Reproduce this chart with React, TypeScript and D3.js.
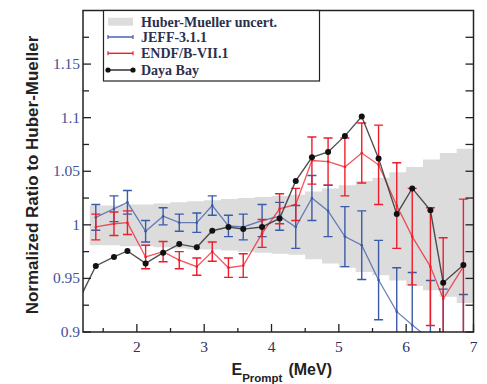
import React, { useEffect, useRef } from "react";
import * as d3 from "d3";

// energies of the prompt bins (MeV)
const energy = [1.39, 1.66, 1.86, 2.13, 2.39, 2.63, 2.89, 3.12, 3.36, 3.58, 3.86, 4.12, 4.36, 4.6, 4.84, 5.09, 5.34, 5.59, 5.86, 6.09, 6.36, 6.55, 6.85];

const jeff = [1.007, 1.015, 1.021, 0.994, 1.008, 1.002, 1.002, 1.018, 0.999, 0.998, 1.004, 1.008, 0.998, 1.025, 1.013, 0.989, 0.981, 0.9485, 0.919, 0.9065, 0.893, 0.88, 0.87];
const jeffErr = [0.012, 0.012, 0.011, 0.01, 0.008, 0.008, 0.009, 0.009, 0.01, 0.012, 0.015, 0.013, 0.02, 0.021, 0.024, 0.028, 0.032, 0.037, 0.041, 0.049, 0.055, 0.06, 0.065];

const endf = [0.998, 1.001, 1.002, 0.97, 0.975, 0.967, 0.961, 0.975, 0.96, 0.962, 0.992, 1.015, 1.019, 1.06, 1.059, 1.054, 1.067, 1.056, 1.018, 0.989, 0.961, 0.931, 0.961];
const endfErr = [0.012, 0.011, 0.011, 0.011, 0.0095, 0.008, 0.008, 0.009, 0.009, 0.011, 0.013, 0.014, 0.015, 0.022, 0.022, 0.027, 0.028, 0.037, 0.04, 0.045, 0.055, 0.057, 0.063];

// Daya Bay has one more point left of the frame (clipped)
const dayaEnergy = [1.125, ...energy];
const daya = [0.928, 0.9616, 0.97, 0.9756, 0.964, 0.974, 0.982, 0.979, 0.9945, 0.998, 0.996, 0.998, 1.006, 1.041, 1.063, 1.068, 1.083, 1.101, 1.062, 1.01, 1.034, 1.0135, 0.946, 0.9625];

// Huber-Mueller uncertainty band, stepped bins
const bandEdges = [1.3, 1.5, 1.75, 2.0, 2.25, 2.5, 2.75, 3.0, 3.25, 3.5, 3.75, 4.0, 4.25, 4.5, 4.75, 5.0, 5.25, 5.5, 5.75, 6.0, 6.25, 6.5, 6.75, 7.0];
const bandLow = [0.981, 0.981, 0.98, 0.98, 0.979, 0.978, 0.977, 0.977, 0.976, 0.975, 0.974, 0.973, 0.972, 0.968, 0.964, 0.96, 0.956, 0.953, 0.948, 0.943, 0.939, 0.933, 0.927];
const bandHigh = [1.018, 1.018, 1.019, 1.019, 1.02, 1.021, 1.022, 1.023, 1.024, 1.025, 1.026, 1.027, 1.028, 1.031, 1.034, 1.037, 1.041, 1.044, 1.049, 1.054, 1.061, 1.067, 1.071];

const yTicks = [0.9, 0.95, 1.0, 1.05, 1.1, 1.15];
const yTickLabels = ["0.9", "0.95", "1", "1.05", "1.1", "1.15"];
const yMinor = [0.925, 0.975, 1.025, 1.075, 1.125, 1.175];
const xTicks = [2, 3, 4, 5, 6, 7];
const xMinor = [1.5, 2.5, 3.5, 4.5, 5.5, 6.5];

const legendItems = ["Huber-Mueller uncert.", "JEFF-3.1.1", "ENDF/B-VII.1", "Daya Bay"];

const BLUE = "#3b5aa8";
const RED = "#ee1d2a";
const BLACK = "#222";

const App = () => {
  const ref = useRef<SVGSVGElement>(null);

  useEffect(() => {
    const width = 487;
    const height = 384;
    const margin = { top: 10.5, right: 13.5, bottom: 52, left: 83 };

    const svg = d3.select(ref.current);
    svg.selectAll("*").remove();

    const x = d3.scaleLinear().domain([1.2, 7]).range([margin.left, width - margin.right]);
    const y = d3.scaleLinear().domain([0.9, 1.2]).range([height - margin.bottom, margin.top]);

    svg.append("clipPath").attr("id", "plotclip")
      .append("rect")
      .attr("x", margin.left).attr("y", margin.top)
      .attr("width", width - margin.left - margin.right)
      .attr("height", height - margin.top - margin.bottom);

    const plot = svg.append("g").attr("clip-path", "url(#plotclip)");

    // band
    const bandPts = bandEdges.map((e, i) => ({
      x: e,
      lo: bandLow[Math.min(i, bandLow.length - 1)],
      hi: bandHigh[Math.min(i, bandHigh.length - 1)],
    }));
    plot.append("path")
      .datum(bandPts)
      .attr("fill", "#dcdcdc")
      .attr("d", d3.area<any>().curve(d3.curveStepAfter).x(d => x(d.x)).y0(d => y(d.lo)).y1(d => y(d.hi)));

    // series with error bars
    const drawSeries = (vals: number[], errs: number[], color: string) => {
      const g = plot.append("g");
      const pts = energy.map((e, i) => ({ e, v: vals[i], err: errs[i] }));
      g.append("path")
        .datum(pts)
        .attr("fill", "none")
        .attr("stroke", color)
        .attr("stroke-opacity", 0.75)
        .attr("stroke-width", 1.3)
        .attr("d", d3.line<any>().x(d => x(d.e)).y(d => y(d.v)));
      const bars = g.selectAll("g.bar").data(pts).enter().append("g")
        .attr("stroke", color).attr("stroke-width", 1.4);
      bars.append("line")
        .attr("x1", d => x(d.e)).attr("x2", d => x(d.e))
        .attr("y1", d => y(d.v - d.err)).attr("y2", d => y(d.v + d.err));
      bars.append("line")
        .attr("x1", d => x(d.e) - 4.5).attr("x2", d => x(d.e) + 4.5)
        .attr("y1", d => y(d.v + d.err)).attr("y2", d => y(d.v + d.err));
      bars.append("line")
        .attr("x1", d => x(d.e) - 4.5).attr("x2", d => x(d.e) + 4.5)
        .attr("y1", d => y(d.v - d.err)).attr("y2", d => y(d.v - d.err));
      g.selectAll("circle").data(pts).enter().append("circle")
        .attr("cx", d => x(d.e)).attr("cy", d => y(d.v)).attr("r", 1.3).attr("fill", color);
    };
    drawSeries(jeff, jeffErr, BLUE);
    drawSeries(endf, endfErr, RED);

    // Daya Bay
    const dayaPts = dayaEnergy.map((e, i) => ({ e, v: daya[i] }));
    plot.append("path")
      .datum(dayaPts)
      .attr("fill", "none")
      .attr("stroke", "#333")
      .attr("stroke-opacity", 0.85)
      .attr("stroke-width", 1.4)
      .attr("d", d3.line<any>().x(d => x(d.e)).y(d => y(d.v)));
    plot.selectAll("circle.daya").data(dayaPts).enter().append("circle")
      .attr("class", "daya")
      .attr("cx", d => x(d.e)).attr("cy", d => y(d.v)).attr("r", 3).attr("fill", "#111");

    // frame
    svg.append("rect")
      .attr("x", margin.left).attr("y", margin.top)
      .attr("width", width - margin.left - margin.right)
      .attr("height", height - margin.top - margin.bottom)
      .attr("fill", "none").attr("stroke", BLACK).attr("stroke-width", 1.5);

    const ticks = svg.append("g").attr("stroke", BLACK).attr("stroke-width", 1.3);
    yTicks.concat(yMinor).forEach(v => {
      const major = yTicks.includes(v);
      ticks.append("line").attr("x1", x(1.2)).attr("x2", x(1.2) + (major ? 8 : 6)).attr("y1", y(v)).attr("y2", y(v));
      ticks.append("line").attr("x1", x(7)).attr("x2", x(7) - 8).attr("y1", y(v)).attr("y2", y(v));
    });
    xTicks.concat(xMinor).forEach(v => {
      const major = xTicks.includes(v);
      ticks.append("line").attr("x1", x(v)).attr("x2", x(v)).attr("y1", y(0.9)).attr("y2", y(0.9) - (major ? 8 : 4));
    });

    // tick labels
    svg.append("g").selectAll("text").data(yTicks).enter().append("text")
      .attr("x", x(1.2) - 3).attr("y", d => y(d) + 5)
      .attr("text-anchor", "end")
      .attr("font-family", "'Liberation Serif', 'Times New Roman', serif")
      .attr("font-size", 15.5).attr("fill", "#44529a")
      .text((d, i) => yTickLabels[i]);
    svg.append("g").selectAll("text").data(xTicks).enter().append("text")
      .attr("x", d => x(d)).attr("y", 352)
      .attr("text-anchor", "middle")
      .attr("font-family", "'Liberation Serif', 'Times New Roman', serif")
      .attr("font-size", 15.5).attr("fill", "#2d3160")
      .text(d => d);

    // axis titles
    svg.append("text")
      .attr("transform", `translate(38, 175) rotate(-90)`)
      .attr("text-anchor", "middle")
      .attr("font-family", "'Liberation Sans', Arial, sans-serif")
      .attr("font-weight", "bold").attr("font-size", 17).attr("fill", BLACK)
      .text("Normalized Ratio to Huber-Mueller");
    const xl = svg.append("text")
      .attr("x", 231.5).attr("y", 375)
      .attr("font-family", "'Liberation Sans', Arial, sans-serif")
      .attr("font-weight", "bold").attr("fill", BLACK);
    xl.append("tspan").attr("font-size", 16).text("E");
    xl.append("tspan").attr("font-size", 11.5).attr("dy", 7).text("Prompt");
    xl.append("tspan").attr("font-size", 16).attr("dy", -7).attr("dx", 6).text("(MeV)");

    // legend
    const lg = svg.append("g");
    lg.append("rect").attr("x", 103.5).attr("y", 10.5).attr("width", 216).attr("height", 70.5)
      .attr("fill", "white").attr("stroke", BLACK).attr("stroke-width", 1.2);
    const rowY = [21.7, 37, 53.3, 70];
    const sx0 = 108, sx1 = 133;
    lg.append("rect").attr("x", sx0).attr("y", rowY[0] - 4).attr("width", sx1 - sx0).attr("height", 8).attr("fill", "#dcdcdc");
    [BLUE, RED].forEach((c, i) => {
      const yy = rowY[i + 1];
      lg.append("line").attr("x1", sx0).attr("x2", sx1).attr("y1", yy).attr("y2", yy).attr("stroke", c).attr("stroke-width", 1.4);
      [sx0, sx1].forEach(xx => lg.append("line").attr("x1", xx).attr("x2", xx).attr("y1", yy - 2).attr("y2", yy + 2).attr("stroke", c).attr("stroke-width", 1.2));
    });
    lg.append("line").attr("x1", sx0).attr("x2", sx1).attr("y1", rowY[3]).attr("y2", rowY[3]).attr("stroke", BLACK).attr("stroke-width", 1.4);
    [sx0, sx1].forEach(xx => lg.append("circle").attr("cx", xx).attr("cy", rowY[3]).attr("r", 2.6).attr("fill", "#111"));
    lg.selectAll("text.lab").data(legendItems).enter().append("text")
      .attr("x", 141).attr("y", (d, i) => rowY[i] + 5)
      .attr("font-family", "'Liberation Serif', 'Times New Roman', serif")
      .attr("font-weight", "bold").attr("font-size", 14).attr("fill", "#2c2f4e")
      .text(d => d);
  }, []);

  return <svg ref={ref} width={487} height={384} style={{ position: "absolute", left: 0, top: 0, background: "white" }} />;
};

export default App;
